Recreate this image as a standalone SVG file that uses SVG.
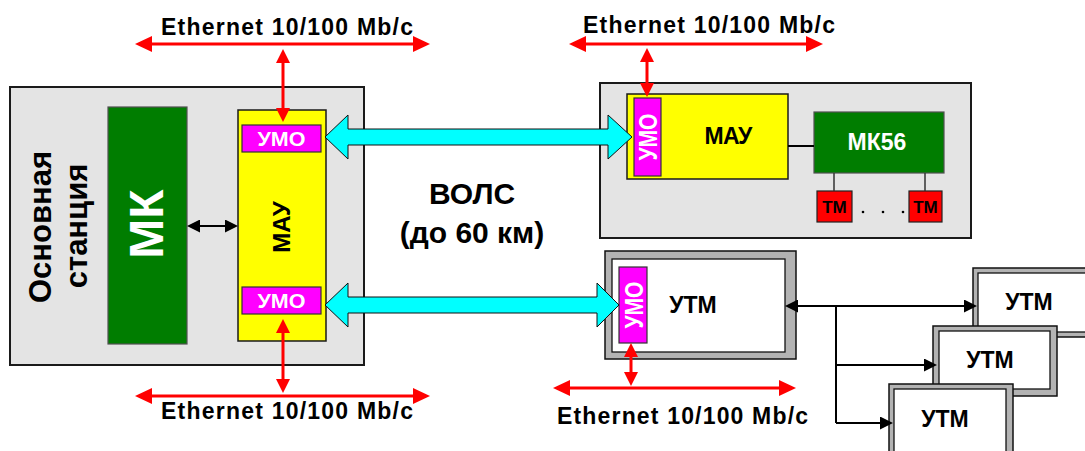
<svg xmlns="http://www.w3.org/2000/svg" width="1085" height="451" viewBox="0 0 1085 451">
<style>
text{font-family:"Liberation Sans",Arial,sans-serif;font-weight:bold;}
.st{fill:#e4e4e4;stroke:#1a1a1a;stroke-width:2;}
.grn{fill:#007d00;stroke:#505050;stroke-width:1.2;}
.yel{fill:#ffff00;stroke:#1a1a1a;stroke-width:1.5;}
.mag{fill:#ff00ff;stroke:#333;stroke-width:1.2;}
.tm{fill:#ff0000;stroke:#222;stroke-width:1.2;}
.frame{fill:#b3b3b3;stroke:#111;stroke-width:1.5;}
.inner{fill:#fff;stroke:#111;stroke-width:1.3;}
.cy{fill:#00ffff;stroke:#111;stroke-width:1;}
.red{stroke:#ff0000;stroke-width:3;fill:none;}
.blk{stroke:#000;stroke-width:2;fill:none;}
.w{fill:#fff;}
.k{fill:#000;}
.eth{font-size:23px;fill:#000;}
</style>
<defs>
<marker id="rh" markerUnits="userSpaceOnUse" viewBox="0 0 17 16" markerWidth="17" markerHeight="16" refX="13" refY="8" orient="auto-start-reverse"><path d="M0,0 L17,8 L0,16 z" fill="#ff0000"/></marker>
<marker id="rv" markerUnits="userSpaceOnUse" viewBox="0 0 14 14" markerWidth="14" markerHeight="14" refX="10" refY="7" orient="auto-start-reverse"><path d="M0,0 L14,7 L0,14 z" fill="#ff0000"/></marker>
<marker id="bh" markerUnits="userSpaceOnUse" viewBox="0 0 13 13" markerWidth="13" markerHeight="13" refX="11" refY="6.5" orient="auto-start-reverse"><path d="M0,0 L13,6.5 L0,13 z" fill="#000"/></marker>
</defs>

<g id="main-station">
<rect class="st" x="10" y="87" width="354" height="278"/>
<text transform="translate(51,227) rotate(-90)" text-anchor="middle" font-size="31" class="k">Основная</text>
<text transform="translate(87,226) rotate(-90)" text-anchor="middle" font-size="31" class="k">станция</text>
</g>
<g id="mk">
<rect class="grn" x="108" y="107" width="79" height="237"/>
<text transform="translate(163,224) rotate(-90)" text-anchor="middle" font-size="48" class="w">МК</text>
</g>
<g id="mau-left">
<rect class="yel" x="238" y="110" width="88" height="231"/>
<text transform="translate(290,227) rotate(-90)" text-anchor="middle" font-size="24" class="k">МАУ</text>
</g>
<g id="umo-left-top">
<rect class="mag" x="242" y="125" width="79" height="27"/>
<text x="281.5" y="146" text-anchor="middle" font-size="21" textLength="48" lengthAdjust="spacingAndGlyphs" class="w">УМО</text>
</g>
<g id="umo-left-bottom">
<rect class="mag" x="242" y="287" width="79" height="27"/>
<text x="281.5" y="308" text-anchor="middle" font-size="21" textLength="48" lengthAdjust="spacingAndGlyphs" class="w">УМО</text>
</g>

<g id="remote-station">
<rect class="st" x="600" y="83" width="371" height="155"/>
</g>
<g id="mau-right">
<rect class="yel" x="627" y="94" width="161" height="85"/>
<text x="728" y="144" text-anchor="middle" font-size="23" letter-spacing="-0.8" class="k">МАУ</text>
</g>
<g id="umo-right">
<rect class="mag" x="634" y="98" width="27" height="78"/>
<text transform="translate(657,137) rotate(-90)" text-anchor="middle" font-size="26" textLength="47" lengthAdjust="spacingAndGlyphs" class="w">УМО</text>
</g>
<g id="mk56">
<rect class="grn" x="814" y="112" width="130" height="61"/>
<text x="877" y="150" text-anchor="middle" font-size="23" class="w">МК56</text>
</g>
<g id="tm1">
<rect class="tm" x="817" y="191" width="35" height="31"/>
<text x="834.5" y="213" text-anchor="middle" font-size="17" class="k">ТМ</text>
</g>
<g id="tm2">
<rect class="tm" x="909" y="191" width="33" height="31"/>
<text x="925.5" y="213" text-anchor="middle" font-size="17" class="k">ТМ</text>
</g>
<g id="dots" fill="#000">
<circle cx="863" cy="212" r="1.3"/><circle cx="883" cy="212" r="1.3"/><circle cx="903" cy="212" r="1.3"/>
</g>

<g id="utm-main">
<rect class="frame" x="605" y="251" width="191" height="108"/>
<rect class="inner" x="612" y="259" width="173" height="93"/>
<text x="693" y="313" text-anchor="middle" font-size="23" class="k">УТМ</text>
</g>
<g id="umo-utm">
<rect class="mag" x="619" y="267" width="28" height="76"/>
<text transform="translate(643,305) rotate(-90)" text-anchor="middle" font-size="26" textLength="47" lengthAdjust="spacingAndGlyphs" class="w">УМО</text>
</g>

<g id="utm-a">
<rect class="frame" x="973" y="268" width="130" height="69"/>
<rect class="inner" x="978" y="273" width="120" height="59"/>
<text x="1029" y="310" text-anchor="middle" font-size="23" class="k">УТМ</text>
</g>
<g id="utm-b">
<rect class="frame" x="933" y="326" width="124" height="70"/>
<rect class="inner" x="939" y="331" width="111" height="58"/>
<text x="990" y="368" text-anchor="middle" font-size="23" class="k">УТМ</text>
</g>
<g id="utm-c">
<rect class="frame" x="889" y="384" width="124" height="75"/>
<rect class="inner" x="894" y="389" width="112" height="65"/>
<text x="945" y="427" text-anchor="middle" font-size="23" class="k">УТМ</text>
</g>

<g id="labels">
<text class="eth" x="161" y="35" textLength="252" lengthAdjust="spacing">Ethernet 10/100 Mb/c</text>
<text class="eth" x="161" y="419" textLength="252" lengthAdjust="spacing">Ethernet 10/100 Mb/c</text>
<text class="eth" x="583" y="33" textLength="252" lengthAdjust="spacing">Ethernet 10/100 Mb/c</text>
<text class="eth" x="557" y="424" textLength="251" lengthAdjust="spacing">Ethernet 10/100 Mb/c</text>
<text x="472" y="204" text-anchor="middle" font-size="30" class="k">ВОЛС</text>
<text x="472" y="243" text-anchor="middle" font-size="30" class="k">(до 60 км)</text>
</g>

<g id="connectors">
<polygon class="cy" points="325,137 348,115 348,129 608,129 608,115 632,137 608,159 608,145 348,145 348,159"/>
<polygon class="cy" points="325,305 348,283 348,297 597,297 597,283 619,305 597,327 597,313 348,313 348,327"/>
<line class="red" x1="139" y1="44" x2="426" y2="44" marker-start="url(#rh)" marker-end="url(#rh)"/>
<line class="red" x1="283" y1="53" x2="283" y2="118" marker-start="url(#rv)" marker-end="url(#rv)"/>
<line class="red" x1="139" y1="396" x2="426" y2="396" marker-start="url(#rh)" marker-end="url(#rh)"/>
<line class="red" x1="283" y1="323" x2="283" y2="389" marker-start="url(#rv)" marker-end="url(#rv)"/>
<line class="red" x1="573" y1="44" x2="819" y2="44" marker-start="url(#rh)" marker-end="url(#rh)"/>
<line class="red" x1="647" y1="52" x2="647" y2="93" marker-start="url(#rv)" marker-end="url(#rv)"/>
<line class="red" x1="557" y1="388" x2="792" y2="388" marker-start="url(#rh)" marker-end="url(#rh)"/>
<line class="red" x1="631" y1="347" x2="631" y2="382" marker-start="url(#rv)" marker-end="url(#rv)"/>
<line class="blk" x1="189" y1="226" x2="236" y2="226" marker-start="url(#bh)" marker-end="url(#bh)"/>
<line class="blk" x1="788" y1="146" x2="814" y2="146"/>
<line stroke="#333" stroke-width="1.5" x1="834" y1="173" x2="834" y2="191"/>
<line stroke="#333" stroke-width="1.5" x1="925" y1="173" x2="925" y2="191"/>
<line class="blk" x1="787" y1="306" x2="975" y2="306" marker-start="url(#bh)" marker-end="url(#bh)"/>
<path class="blk" d="M836,306 V423"/>
<line class="blk" x1="836" y1="365" x2="935" y2="365" marker-end="url(#bh)"/>
<line class="blk" x1="836" y1="423" x2="891" y2="423" marker-end="url(#bh)"/>
</g>
</svg>
